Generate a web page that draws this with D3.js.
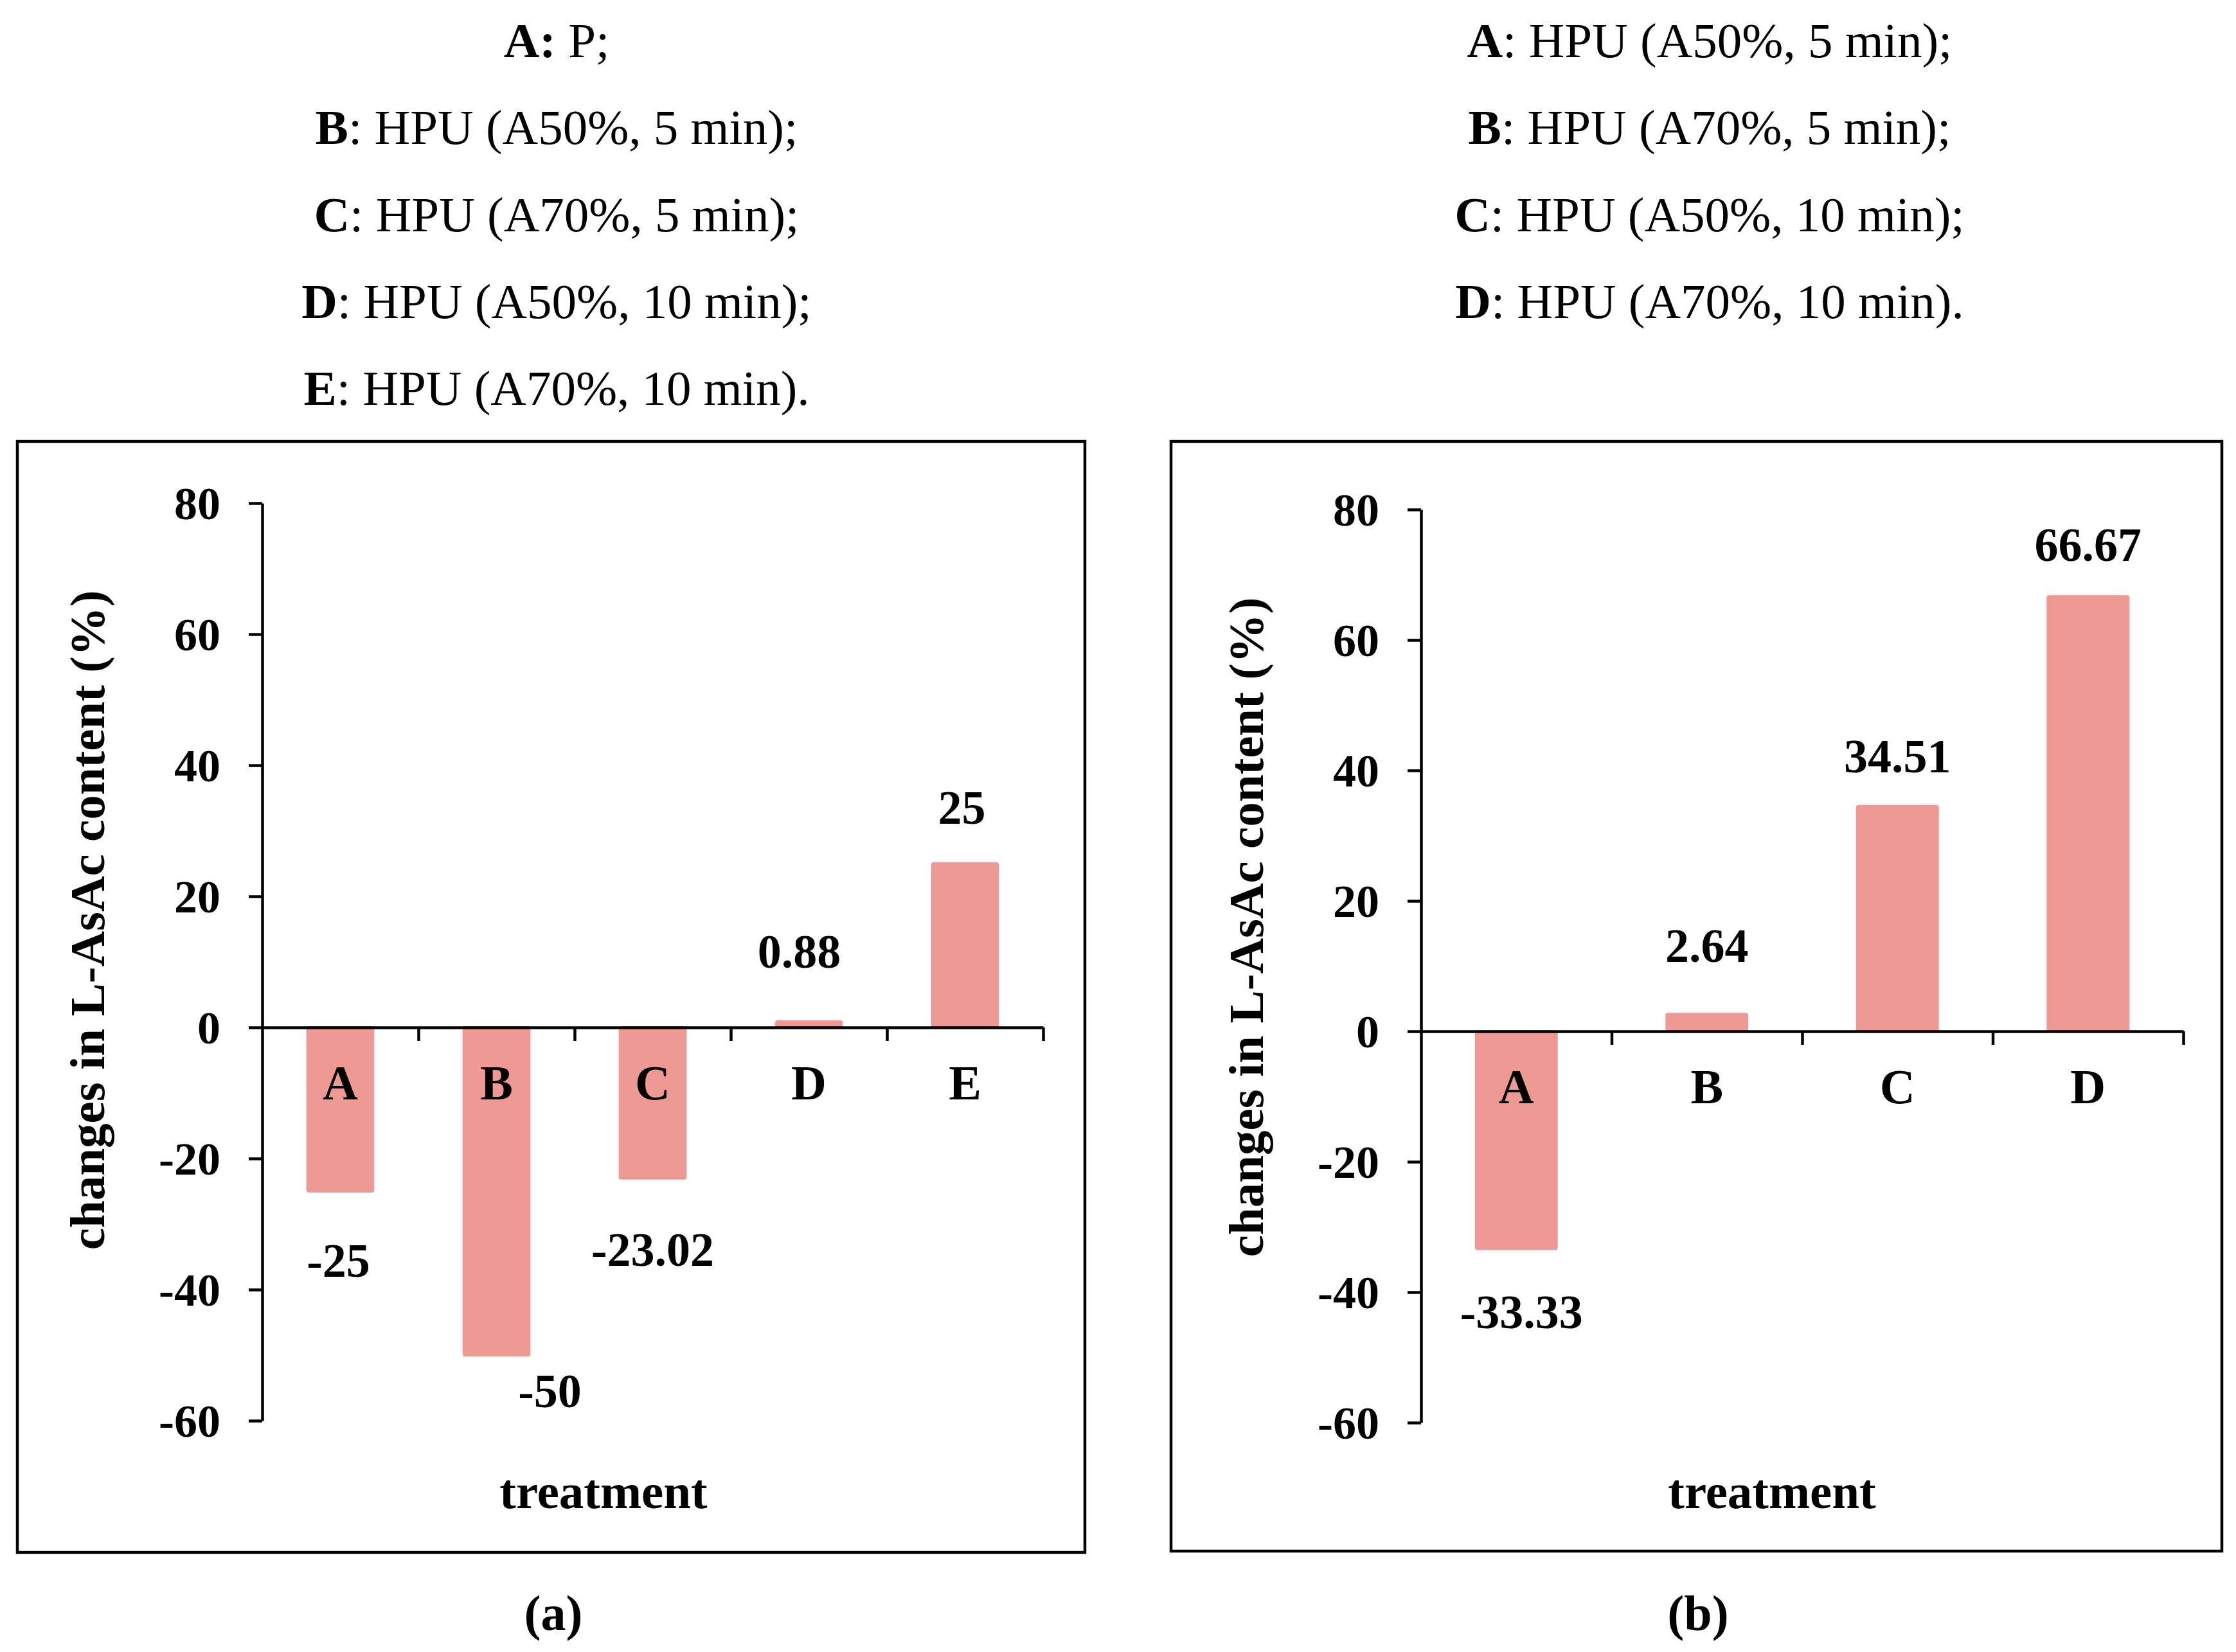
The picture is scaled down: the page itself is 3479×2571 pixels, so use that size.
<!DOCTYPE html>
<html>
<head>
<meta charset="utf-8">
<title>Changes in L-AsAc content</title>
<script src="https://d3js.org/d3.v7.min.js"></script>
<style>
  body { margin: 0; background: #fff; }
  text { font-family: "Liberation Serif", "Times New Roman", serif; fill: #000; }
</style>
</head>
<body>
<script>
// data
const catsA = ['A', 'B', 'C', 'D', 'E'];
const valsA = [-25, -50, -23.02, 0.88, 25];
const labelsA = ['-25', '-50', '-23.02', '0.88', '25'];
const notesA = [' P;', ' HPU (A50%, 5 min);', ' HPU (A70%, 5 min);', ' HPU (A50%, 10 min);', ' HPU (A70%, 10 min).'];

const catsB = ['A', 'B', 'C', 'D'];
const valsB = [-33.33, 2.64, 34.51, 66.67];
const labelsB = ['-33.33', '2.64', '34.51', '66.67'];
const notesB = [' HPU (A50%, 5 min);', ' HPU (A70%, 5 min);', ' HPU (A50%, 10 min);', ' HPU (A70%, 10 min).'];

const yTicks = [-60, -40, -20, 0, 20, 40, 60, 80];
const yTitle = 'changes in L-AsAc content (%)';
const xTitle = 'treatment';

// label nudges (px), baseline relative to bar end
const nudgeA = { dx: [-3, 83, 0, -15, -5], dy: [133, 81, 136, -84, -62] };
const nudgeB = { dx: [8, 0, 0, 0], dy: [124, -81, -53, -55] };

const W = 3479, H = 2571;
const barColor = '#ef9995';

const svg = d3.select('body').append('svg')
  .attr('width', W)
  .attr('height', H);

function drawPanel(p) {
  const g = svg.append('g');

  // notes above the box
  const notes = g.append('g');
  p.notes.forEach((t, i) => {
    const txt = notes.append('text')
      .attr('x', p.noteX)
      .attr('y', 89 + i * 135.3)
      .attr('text-anchor', 'middle')
      .style('font-size', '77px');
    txt.append('tspan').style('font-weight', 'bold').text(p.cats[i] + (p.boldColon && i === 0 ? ':' : ''));
    txt.append('tspan').text((p.boldColon && i === 0 ? '' : ':') + t);
  });

  // frame
  g.append('rect')
    .attr('x', p.box[0]).attr('y', p.box[1])
    .attr('width', p.box[2] - p.box[0]).attr('height', p.box[3] - p.box[1])
    .attr('fill', 'none').attr('stroke', '#000').attr('stroke-width', 4.5);

  const y = d3.scaleLinear().domain([-60, 80]).range([p.yBottom, p.yTop]);
  const x = d3.scaleBand().domain(p.cats).range([p.x0, p.x1])
    .paddingInner(0.565).paddingOuter(0.2825);

  // bars
  g.selectAll('rect.bar')
    .data(p.vals)
    .enter()
    .append('rect')
    .attr('class', 'bar')
    .attr('x', (d, i) => x(p.cats[i]))
    .attr('width', x.bandwidth())
    .attr('y', d => Math.min(y(d), y(0)) - 2)
    .attr('height', d => Math.abs(y(d) - y(0)) + 4)
    .attr('rx', 4)
    .attr('fill', barColor);

  // y axis
  const yAxis = g.append('g')
    .attr('transform', `translate(${p.x0},0)`)
    .call(d3.axisLeft(y).tickValues(yTicks).tickSize(21).tickSizeOuter(0).tickPadding(44).tickFormat(d => String(d)));
  yAxis.select('.domain').attr('stroke-width', 4.5);
  yAxis.selectAll('.tick line').attr('stroke-width', 4.5);
  yAxis.selectAll('.tick text')
    .style('font-family', '"Liberation Serif", serif')
    .style('font-size', '72px')
    .style('font-weight', 'bold')
    .attr('dy', '0.34em');

  // x axis along zero, ticks at category boundaries
  const xb = d3.scaleLinear().domain([0, p.cats.length]).range([p.x0, p.x1]);
  const xAxis = g.append('g')
    .attr('transform', `translate(0,${y(0)})`)
    .call(d3.axisBottom(xb).tickValues(d3.range(1, p.cats.length + 1)).tickSize(21).tickSizeOuter(0).tickFormat(''));
  xAxis.select('.domain').attr('stroke-width', 4.5);
  xAxis.selectAll('.tick line').attr('stroke-width', 4.5);

  // category letters
  g.selectAll('text.cat')
    .data(p.cats)
    .enter()
    .append('text')
    .attr('class', 'cat')
    .attr('x', d => x(d) + x.bandwidth() / 2)
    .attr('y', y(0) + 112)
    .attr('text-anchor', 'middle')
    .style('font-size', '76px')
    .style('font-weight', 'bold')
    .text(d => d);

  // value labels
  g.selectAll('text.val')
    .data(p.vals)
    .enter()
    .append('text')
    .attr('class', 'val')
    .attr('x', (d, i) => x(p.cats[i]) + x.bandwidth() / 2 + p.nudge.dx[i])
    .attr('y', (d, i) => y(d) + p.nudge.dy[i])
    .attr('text-anchor', 'middle')
    .style('font-size', '74px')
    .style('font-weight', 'bold')
    .text((d, i) => p.labels[i]);

  // axis titles
  g.append('text')
    .attr('transform', `translate(${p.x0 - 246},${p.yTitleY}) rotate(-90)`)
    .attr('text-anchor', 'middle')
    .style('font-size', '77px')
    .style('font-weight', 'bold')
    .text(yTitle);

  g.append('text')
    .attr('x', p.xTitleX)
    .attr('y', 2347)
    .attr('text-anchor', 'middle')
    .style('font-size', '77px')
    .style('font-weight', 'bold')
    .text(xTitle);

  g.append('text')
    .attr('x', p.tagX)
    .attr('y', 2537)
    .attr('text-anchor', 'middle')
    .style('font-size', '78px')
    .style('font-weight', 'bold')
    .text(p.tag);
}

drawPanel({
  cats: catsA, vals: valsA, labels: labelsA, notes: notesA, nudge: nudgeA,
  noteX: 866, boldColon: true,
  box: [27, 687, 1688, 2416],
  x0: 408, x1: 1623, yTop: 783, yBottom: 2211,
  yTitleY: 1432, xTitleX: 939, tagX: 861, tag: '(a)'
});

drawPanel({
  cats: catsB, vals: valsB, labels: labelsB, notes: notesB, nudge: nudgeB,
  noteX: 2660, boldColon: false,
  box: [1822, 687, 3457, 2414],
  x0: 2211, x1: 3397, yTop: 793, yBottom: 2214,
  yTitleY: 1443, xTitleX: 2757, tagX: 2642, tag: '(b)'
});
</script>
</body>
</html>
